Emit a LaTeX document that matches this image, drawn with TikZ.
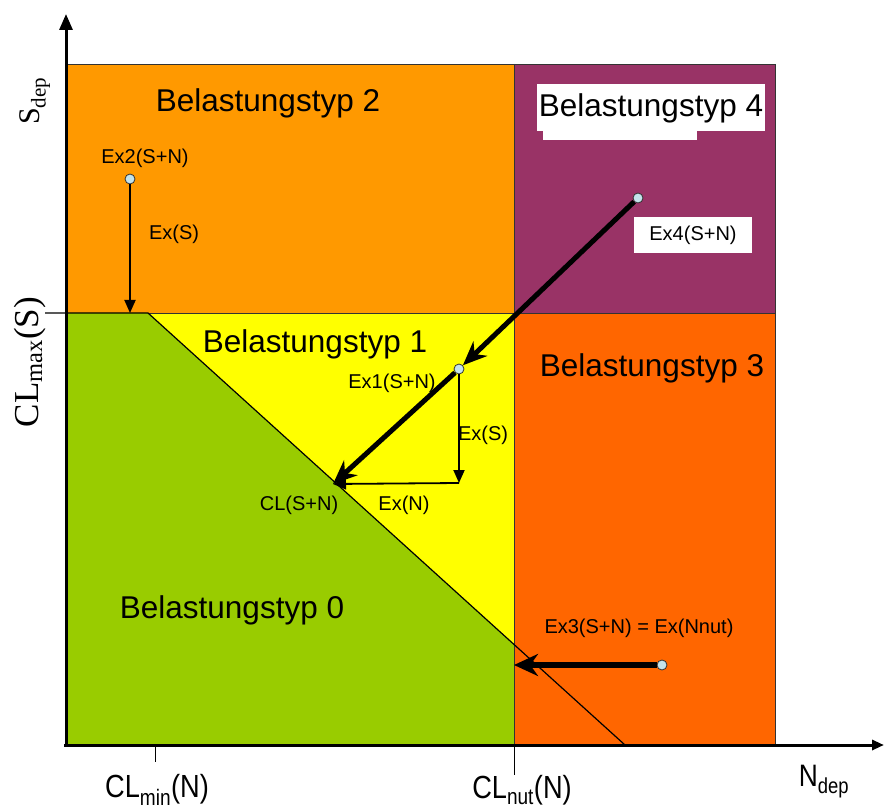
\documentclass[tikz,border=0pt]{standalone}
\usepackage{fontspec}
\setmainfont{Liberation Sans}
\newfontfamily\axisserif{Liberation Serif}
\newfontfamily\axissans[FakeStretch=0.85]{Liberation Sans}
\usetikzlibrary{arrows.meta}

\definecolor{typtwo}{HTML}{FF9900}
\definecolor{typfour}{HTML}{993366}
\definecolor{typthree}{HTML}{FF6600}
\definecolor{typone}{HTML}{FFFF00}
\definecolor{typzero}{HTML}{99CC00}
\definecolor{exdot}{HTML}{C4E4EC}

\tikzset{
    zone/.style={draw=black!80, line width=0.8pt},
    typ/.style={font=\fontsize{31.5}{31.5}\selectfont, inner sep=2pt},
    lbl/.style={font=\fontsize{20}{20}\selectfont, inner sep=1pt},
    exdotnode/.style={circle, draw=black!80, fill=exdot, line width=0.8pt, minimum size=10pt, inner sep=0pt},
    bigarrow/.style={line width=5pt, -{Stealth[length=24pt, width=20pt]}},
    smallarrow/.style={line width=1.8pt, -{Triangle[length=13pt, width=11pt]}},
    axis/.style={line width=3pt}
}

\begin{document}
\begin{tikzpicture}[x=1pt, y=-1pt]
        \useasboundingbox (0,0) rectangle (884,810);

        % Define the zones
        \fill[typone] (66,313) rectangle (514,745);
        \draw[zone, fill=typtwo] (66,64) rectangle (514,313);
        \draw[zone, fill=typfour] (514,64) rectangle (775,313);
        \draw[zone, fill=typthree] (514,313) rectangle (775,745);
        \fill[typzero] (66,313) -- (148,313) -- (514,644.5) -- (514,745) -- (66,745) -- cycle;
        \draw[black!80, line width=0.8pt] (514,64) -- (514,745);

        % Define the limit line
        \draw[line width=1.2pt] (45,313) -- (148,313) -- (625,745);

        % Define the axes
        \draw[axis, -{Triangle[length=16pt, width=13pt]}] (66,747) -- (66,14);
        \draw[axis, -{Triangle[length=12pt, width=10pt]}] (64,745) -- (884,745);
        \draw[line width=0.8pt] (155,745) -- (155,762);
        \draw[line width=0.8pt] (514,745) -- (514,775);

        % Axis labels
        \node[rotate=90, font=\axisserif\fontsize{30}{30}\selectfont] (sdep) at (35,101) {S\textsubscript{dep}};
        \node[rotate=90, font=\axisserif\fontsize{35}{35}\selectfont] (clmax) at (30,362) {CL\textsubscript{max}(S)};
        \node[font=\axissans\fontsize{32}{32}\selectfont] (clmin) at (157,790) {CL\textsubscript{min}(N)};
        \node[font=\axissans\fontsize{32}{32}\selectfont] (clnut) at (522,790) {CL\textsubscript{nut}(N)};
        \node[font=\axissans\fontsize{31}{31}\selectfont] (ndep) at (824,782) {N\textsubscript{dep}};

        % Zone labels
        \fill[white] (543,128) rectangle (697,140);
        \node[typ] (typ2) at (268,103) {Belastungstyp 2};
        \node[typ, fill=white, minimum height=47pt, inner xsep=2pt] (typ4) at (651,108) {Belastungstyp 4};
        \node[typ] (typ1) at (315,344) {Belastungstyp 1};
        \node[typ] (typ3) at (652,368) {Belastungstyp 3};
        \node[typ] (typ0) at (232,610) {Belastungstyp 0};

        % Define the examples
        \node[exdotnode] (ex2) at (130,179) {};
        \node[exdotnode] (ex4) at (638,198) {};
        \node[exdotnode] (ex1) at (459,369) {};
        \node[exdotnode] (ex3) at (662,665) {};
        \coordinate (clmaxpt) at (130,313);
        \coordinate (clsn) at (333,484);
        \coordinate (corner) at (459,483);
        \coordinate (clnutpt) at (514,665);

        \draw[smallarrow] (ex2) -- (clmaxpt);
        \draw[bigarrow] (ex4) -- (ex1);
        \draw[bigarrow] (ex1) -- (clsn);
        \draw[smallarrow] (ex1) -- (corner);
        \draw[smallarrow] (corner) -- (clsn);
        \draw[line width=6pt, -{Stealth[length=24pt, width=22pt]}] (ex3) -- (clnutpt);

        % Example labels
        \node[lbl] (ex2lbl) at (145,158) {Ex2(S+N)};
        \node[lbl] (exslbl) at (174,234) {Ex(S)};
        \node[lbl, fill=white, minimum width=118pt, minimum height=36pt] (ex4lbl) at (693,235) {Ex4(S+N)};
        \node[lbl] (ex1lbl) at (392,383) {Ex1(S+N)};
        \node[lbl] (exs1lbl) at (483,435) {Ex(S)};
        \node[lbl] (exnlbl) at (404,505) {Ex(N)};
        \node[lbl] (clsnlbl) at (299,505) {CL(S+N)};
        \node[lbl] (ex3lbl) at (639,628) {Ex3(S+N) = Ex(Nnut)};

    \end{tikzpicture}
\end{document}
